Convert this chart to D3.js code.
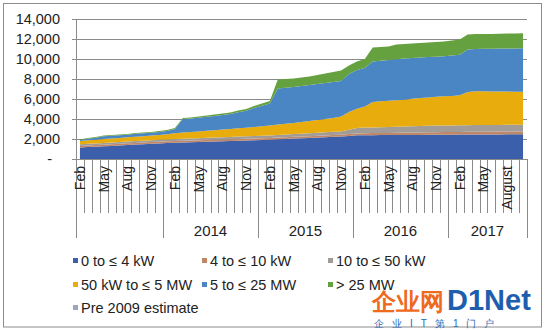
<!DOCTYPE html>
<html>
<head>
<meta charset="utf-8">
<script src="https://cdnjs.cloudflare.com/ajax/libs/d3/7.8.5/d3.min.js"></script>
<style>
  body { margin: 0; background: #fff; }
  text { font-family: "Liberation Sans", Arial, sans-serif; fill: #222; }
</style>
</head>
<body>
<script>
var w = 549;
var h = 330;

// monthly categories, Feb 2013 .. Oct 2017
var categories = d3.timeMonth.range(new Date(2013, 1, 1), new Date(2017, 10, 1));

var monthTicks = ["Feb","May","Aug","Nov","Feb","May","Aug","Nov","Feb","May","Aug","Nov",
                  "Feb","May","Aug","Nov","Feb","May","August"];
var yearLabels = ["", "2014", "2015", "2016", "2017"];
var yTicks = [0, 2000, 4000, 6000, 8000, 10000, 12000, 14000];

var seriesNames = ["0 to \u2264 4 kW", "4 to \u2264 10 kW", "10 to \u2264 50 kW",
                   "50 kW to \u2264 5 MW", "5 to \u2264 25 MW", "> 25 MW", "Pre 2009 estimate"];
var seriesColors = ["#3c5fab", "#bf8668", "#a19c98", "#e8ad0c", "#4a86c4", "#66a140", "#9da7ba"];

var kw0to4 = [1150,1190,1230,1270,1310,1350,1400,1440,1480,1520,
              1560,1600,1630,1650,1680,1700,1730,1750,1780,1800,
              1830,1850,1880,1900,1930,1970,2000,2040,2070,2110,
              2140,2180,2220,2250,2310,2370,2380,2380,2390,2390,
              2400,2400,2410,2410,2420,2420,2430,2430,2440,2440,
              2450,2450,2460,2460,2470,2470,2480];
var kw4to10 = [160,160,160,165,165,165,165,170,170,170,
               170,170,170,170,170,170,170,170,170,170,
               170,170,170,170,170,170,170,175,175,175,
               180,180,180,180,185,190,200,210,215,220,
               230,240,245,250,260,265,270,270,270,275,
               275,280,280,280,280,280,280];
var kw10to50 = [160,165,170,170,175,175,180,180,185,185,
                190,190,195,200,205,210,215,220,225,230,
                240,245,250,255,260,270,280,285,290,300,
                310,315,320,330,430,540,560,570,580,590,
                600,610,620,630,650,655,655,660,660,665,
                665,665,670,670,670,670,670];
var kw50to5mw = [330,360,370,400,410,420,420,430,450,470,
                 480,520,570,630,650,680,710,740,770,800,
                 830,870,900,960,1000,1030,1080,1110,1170,1220,
                 1270,1330,1380,1490,1780,1930,2110,2540,2580,2620,
                 2640,2680,2740,2800,2830,2890,2910,2940,3010,3320,
                 3390,3380,3350,3340,3320,3310,3290];
var mw5to25 = [100,160,200,280,270,270,270,300,290,280,
               310,330,440,1350,1340,1370,1400,1430,1460,1490,
               1610,1680,1900,2050,2190,3610,3590,3590,3600,3600,
               3600,3600,3600,3550,3800,3870,3850,4050,4070,4080,
               4110,4120,4090,4060,4040,4000,4020,4040,4040,4250,
               4220,4250,4270,4290,4310,4330,4350];
var mwOver25 = [50,60,60,60,70,70,70,80,80,80,
                90,90,100,100,110,120,130,140,150,160,
                170,190,200,220,250,900,880,850,850,850,
                900,950,1000,1050,850,850,900,1400,1370,1350,
                1470,1450,1450,1450,1450,1470,1470,1510,1530,1500,
                1500,1480,1480,1490,1500,1500,1510];

var seriesValues = [kw0to4, kw4to10, kw10to50, kw50to5mw, mw5to25, mwOver25];

var plotLeft = 76, plotRight = 527, plotTop = 19, plotBottom = 159;

drawChart();

function drawChart() {
    var svg = d3.select("body").append("svg")
        .attr("width", w)
        .attr("height", h);

    svg.append("rect")
        .attr("x", 3.5).attr("y", 3.5)
        .attr("width", 538).attr("height", 323.5)
        .attr("fill", "#fff")
        .attr("stroke", "#8c8c8c");

    var rows = categories.map(function (d, i) {
        var r = { date: d, i: i };
        seriesValues.forEach(function (s, k) { r["s" + k] = s[i]; });
        return r;
    });

    var x = d3.scaleBand()
        .domain(d3.range(categories.length))
        .range([plotLeft, plotRight])
        .padding(0);

    var y = d3.scaleLinear()
        .domain([0, 14000])
        .range([plotBottom, plotTop]);

    var cx = function (i) { return x(i) + x.bandwidth() / 2; };

    // gridlines
    svg.append("g").selectAll("line")
        .data(yTicks)
        .join("line")
        .attr("x1", plotLeft - 4).attr("x2", plotRight)
        .attr("y1", function (d) { return Math.round(y(d)) + 0.5; })
        .attr("y2", function (d) { return Math.round(y(d)) + 0.5; })
        .attr("stroke", "#8a8a8a")
        .attr("stroke-width", 1);

    // y labels
    svg.append("g").selectAll("text")
        .data(yTicks)
        .join("text")
        .attr("x", function (d) { return d === 0 ? 52 : 60; })
        .attr("y", function (d) { return y(d) + 5; })
        .attr("text-anchor", "end")
        .attr("font-size", 14.5)
        .text(function (d) { return d === 0 ? "-" : d3.format(",")(d); });

    // stacked areas
    var keys = seriesValues.map(function (s, k) { return "s" + k; });
    var stacked = d3.stack().keys(keys)(rows);

    var area = d3.area()
        .x(function (d) { return cx(d.data.i); })
        .y0(function (d) { return y(d[0]); })
        .y1(function (d) { return y(d[1]); });

    svg.append("g").selectAll("path")
        .data(stacked)
        .join("path")
        .attr("d", area)
        .attr("fill", function (d, k) { return seriesColors[k]; });

    // axes lines
    svg.append("line")
        .attr("x1", plotLeft + 0.5).attr("x2", plotLeft + 0.5)
        .attr("y1", plotTop).attr("y2", plotBottom)
        .attr("stroke", "#8a8a8a");
    svg.append("line")
        .attr("x1", plotLeft).attr("x2", plotRight)
        .attr("y1", plotBottom + 0.5).attr("y2", plotBottom + 0.5)
        .attr("stroke", "#8a8a8a");

    // month ticks
    var edges = d3.range(categories.length + 1);
    var isYearEdge = function (i) {
        return i === 0 || i === categories.length || categories[i].getMonth() === 0;
    };
    svg.append("g").selectAll("line")
        .data(edges)
        .join("line")
        .attr("x1", function (i) { return Math.round(plotLeft + i * x.step()) + 0.5; })
        .attr("x2", function (i) { return Math.round(plotLeft + i * x.step()) + 0.5; })
        .attr("y1", plotBottom)
        .attr("y2", function (i) { return isYearEdge(i) ? 238 : 213; })
        .attr("stroke", "#8a8a8a");

    // month labels
    svg.append("g").selectAll("text")
        .data(monthTicks)
        .join("text")
        .attr("transform", function (d, j) {
            return "translate(" + (cx(j * 3) + 5) + ",166) rotate(-90)";
        })
        .attr("text-anchor", "end")
        .attr("font-size", 14)
        .text(function (d) { return d; });

    // year labels
    var yearStarts = edges.filter(isYearEdge);
    svg.append("g").selectAll("text")
        .data(yearLabels)
        .join("text")
        .attr("x", function (d, j) {
            return plotLeft + (yearStarts[j] + yearStarts[j + 1]) / 2 * x.step();
        })
        .attr("y", 236)
        .attr("text-anchor", "middle")
        .attr("font-size", 15)
        .text(function (d) { return d; });

    // legend
    var legendPos = [[73, 266], [202, 266], [328, 266], [73, 290], [202, 290], [328, 290], [73, 313]];
    var legend = svg.append("g").selectAll("g")
        .data(seriesNames)
        .join("g")
        .attr("transform", function (d, k) {
            return "translate(" + legendPos[k][0] + "," + legendPos[k][1] + ")";
        });
    legend.append("rect")
        .attr("x", 0).attr("y", -8)
        .attr("width", 5).attr("height", 5)
        .attr("fill", function (d, k) { return seriesColors[k]; });
    legend.append("text")
        .attr("x", 8)
        .attr("y", 0)
        .attr("font-size", 14.5)
        .text(function (d) { return d; });

    // watermark
    svg.append("text")
        .attr("x", 372).attr("y", 310)
        .attr("font-size", 24).attr("font-weight", "bold")
        .attr("font-family", "Noto Sans CJK SC")
        .style("fill", "#ee6a1c")
        .text("企业网");
    svg.append("text")
        .attr("x", 447).attr("y", 310)
        .attr("font-size", 29).attr("font-weight", "bold")
        .style("fill", "#1f5eaf")
        .text("D1Net");
    svg.append("text")
        .attr("x", 374).attr("y", 327)
        .attr("font-size", 10)
        .attr("font-family", "Noto Sans CJK SC")
        .attr("letter-spacing", 8)
        .style("fill", "#2a6ab5")
        .text("企业IT第1门户");
}
</script>
</body>
</html>
